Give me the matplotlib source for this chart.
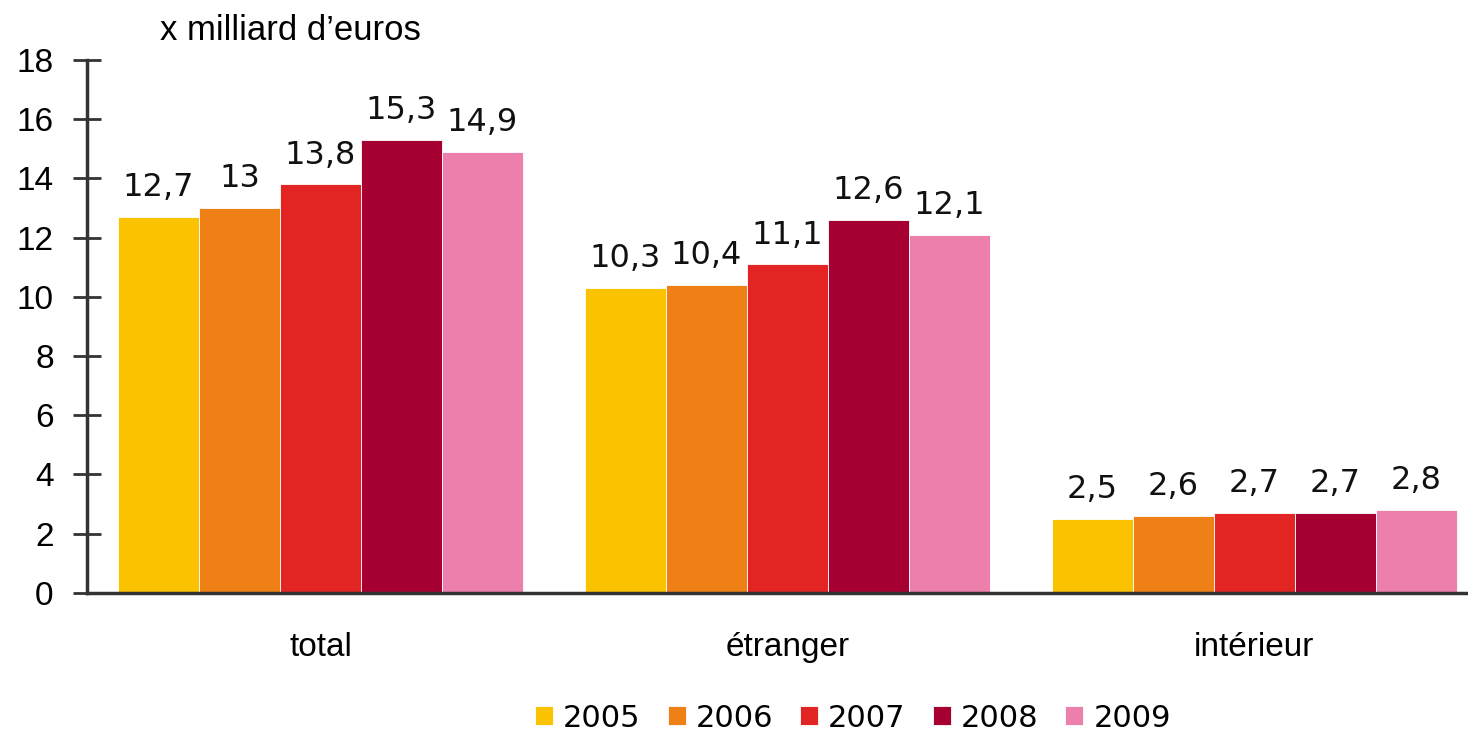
import matplotlib.pyplot as plt
import numpy as np

# Data
categories = ['total', 'étranger', 'intérieur']
years = ['2005', '2006', '2007', '2008', '2009']
values = {
    '2005': [12.7, 10.3, 2.5],
    '2006': [13.0, 10.4, 2.6],
    '2007': [13.8, 11.1, 2.7],
    '2008': [15.3, 12.6, 2.7],
    '2009': [14.9, 12.1, 2.8],
}
colors = ['#FBC200', '#EE8015', '#E22422', '#A60032', '#ED7FAD']
yticks = [0, 2, 4, 6, 8, 10, 12, 14, 16, 18]

plt.rcParams['font.family'] = ['Liberation Sans', 'DejaVu Sans']

fig = plt.figure(figsize=(14.68, 7.32), dpi=100)
ax = fig.add_axes([0.0593, 0.19, 0.954, 0.728])

x = np.arange(len(categories))
width = 0.1735
for i, (year, color) in enumerate(zip(years, colors)):
    pos = x + (i - 2) * width
    ax.bar(pos, values[year], width, color=color, label=year,
           edgecolor='white', linewidth=0.6)
    for xp, v in zip(pos, values[year]):
        txt = ('%g' % v).replace('.', ',')
        ax.text(xp, v + 0.7, txt, ha='center', va='baseline', fontsize=23,
                family='DejaVu Sans', color='#111111')

ax.set_xlim(-0.5, 2.5)
ax.set_ylim(0, 18)
ax.set_yticks(yticks)
ax.set_yticklabels([str(t) for t in yticks], fontsize=24)
ax.set_xticks(x)
ax.set_xticklabels(categories, fontsize=24)
ax.tick_params(axis='x', length=0, pad=28)
ax.tick_params(axis='y', direction='inout', length=20, width=2, color='#333333', pad=14)

for s in ['top', 'right']:
    ax.spines[s].set_visible(False)
for s in ['left', 'bottom']:
    ax.spines[s].set_linewidth(2.5)
    ax.spines[s].set_color('#333333')

fig.text(0.109, 0.958, 'x milliard d\u2019euros', fontsize=25, va='center')

fig.legend(loc='center', bbox_to_anchor=(0.581, 0.019), ncol=5, frameon=False,
           handlelength=0.59, handleheight=0.59, handletextpad=0.33,
           columnspacing=0.88, prop={'family': 'DejaVu Sans', 'size': 22})

plt.savefig('out.png')
